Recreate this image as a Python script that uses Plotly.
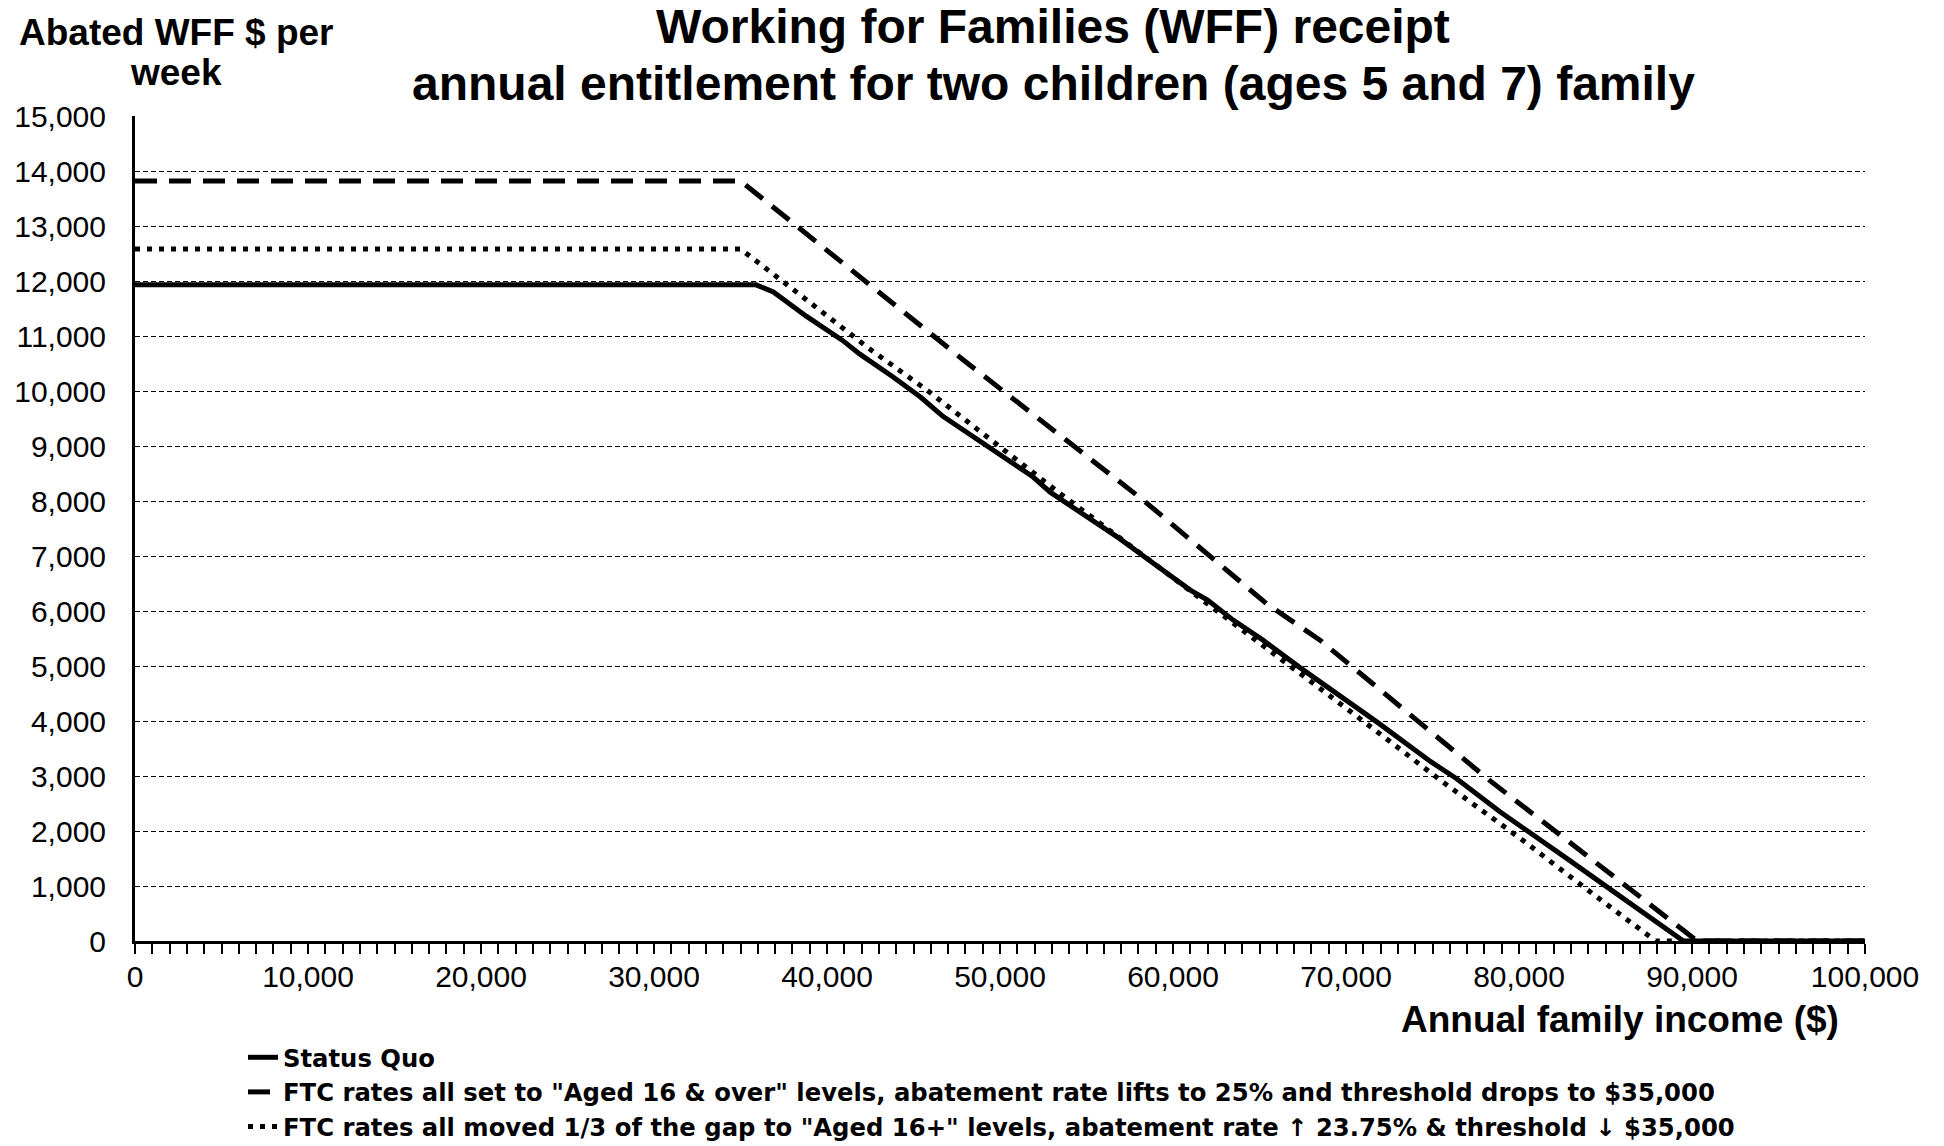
import plotly.graph_objects as go

# ---- data ----
income_sq = [0, 35900, 36900, 38800, 40900, 41900, 43800, 45400, 46700, 49200, 51900, 52900,
             55800, 56900, 58900, 61000, 62000, 63500, 65200, 67300, 70000, 71800, 74900,
             76400, 78900, 80800, 82900, 85100, 88000, 89500, 100000]
status_quo = [11930, 11930, 11800, 11360, 10920, 10670, 10260, 9890, 9540, 9010, 8440, 8160,
              7560, 7320, 6860, 6380, 6200, 5830, 5470, 4980, 4380, 3980, 3260,
              2950, 2350, 1920, 1470, 980, 320, 0, 0]

income_a16 = [0, 35000, 47900, 58300, 65400, 68500, 78300, 87200, 90300, 100000]
aged16_levels = [13820, 13820, 10560, 8010, 6135, 5470, 2920, 770, 0, 0]

income_third = [0, 35000, 37500, 42400, 45800, 53500, 57900, 67300, 71200, 75600, 80100,
                84500, 87900, 100000]
third_gap = [12580, 12580, 11980, 10780, 10010, 8130, 7100, 4890, 3950, 2890, 1860,
             800, 0, 0]

series_names = [
    "Status Quo",
    'FTC rates all set to "Aged 16 & over" levels, abatement rate lifts to 25% and threshold drops to $35,000',
    'FTC rates all moved 1/3 of the gap to "Aged 16+" levels, abatement rate \u2191 23.75% & threshold \u2193 $35,000',
]
title_lines = ["Working for Families (WFF) receipt",
               "annual entitlement for two children (ages 5 and 7) family"]
y_title_lines = ["Abated WFF $ per", "week"]
x_title = "Annual family income ($)"

FONT = "Liberation Sans, Arial, sans-serif"
LEG_FONT = "DejaVu Sans, Liberation Sans, sans-serif"

fig = go.Figure()
fig.add_trace(go.Scatter(x=income_sq, y=status_quo, mode="lines", name=series_names[0],
                         line=dict(color="black", width=5), cliponaxis=False))
fig.add_trace(go.Scatter(x=income_a16, y=aged16_levels, mode="lines", name=series_names[1],
                         line=dict(color="black", width=5, dash="22px,12px"), cliponaxis=False))
fig.add_trace(go.Scatter(x=income_third, y=third_gap, mode="lines", name=series_names[2],
                         line=dict(color="black", width=5, dash="5px,7px"), cliponaxis=False))

W, H = 1944, 1146
L, R, T, B = 135, 79, 116, 205
pw, ph = W - L - R, H - T - B

def px(xp):
    return (xp - L) / pw

def py(yp):
    return (H - B - yp) / ph

annotations = [
    dict(text=title_lines[0], x=px(1053), y=py(27), xref="paper", yref="paper",
         xanchor="center", yanchor="middle", showarrow=False,
         font=dict(family=FONT, size=48, color="black", weight="bold")),
    dict(text=title_lines[1], x=px(1053), y=py(84), xref="paper", yref="paper",
         xanchor="center", yanchor="middle", showarrow=False,
         font=dict(family=FONT, size=48, color="black", weight="bold")),
    dict(text=y_title_lines[0], x=px(176), y=py(32), xref="paper", yref="paper",
         xanchor="center", yanchor="middle", showarrow=False,
         font=dict(family=FONT, size=37, color="black", weight="bold")),
    dict(text=y_title_lines[1], x=px(176), y=py(72), xref="paper", yref="paper",
         xanchor="center", yanchor="middle", showarrow=False,
         font=dict(family=FONT, size=37, color="black", weight="bold")),
    dict(text=x_title, x=px(1841), y=py(1019), xref="paper", yref="paper",
         xanchor="right", yanchor="middle", showarrow=False,
         font=dict(family=FONT, size=37, color="black", weight="bold")),
]

fig.update_layout(
    width=W, height=H,
    margin=dict(l=L, r=R, t=T, b=B, pad=0, autoexpand=False),
    paper_bgcolor="white", plot_bgcolor="white",
    font=dict(family=FONT, color="black"),
    showlegend=True,
    legend=dict(
        xref="container", yref="container",
        x=243 / W, y=1 - 1035 / H, xanchor="left", yanchor="top",
        orientation="v", traceorder="normal",
        font=dict(family=LEG_FONT, size=24.3, color="black", weight="bold"),
        bgcolor="rgba(0,0,0,0)", borderwidth=0, itemwidth=30,
    ),
    annotations=annotations,
    xaxis=dict(
        range=[0, 100000], dtick=10000, tick0=0, tickformat=",",
        showgrid=False, zeroline=False, automargin=False,
        showline=True, linecolor="black", linewidth=3,
        ticks="outside", ticklen=10, tickwidth=1.5, tickcolor="black",
        minor=dict(dtick=1000, ticks="outside", ticklen=10, tickwidth=1.5, tickcolor="black", showgrid=False),
        tickfont=dict(family=FONT, size=30, color="black"),
        ticklabelstandoff=-3,
        fixedrange=True,
    ),
    yaxis=dict(
        range=[0, 15000], dtick=1000, tick0=0, tickformat=",",
        showgrid=True, gridcolor="black", gridwidth=1.3, griddash="5px,3px",
        zeroline=False, automargin=False,
        showline=True, linecolor="black", linewidth=3,
        ticks="",
        tickfont=dict(family=FONT, size=30, color="black"),
        ticklabelstandoff=20,
        fixedrange=True,
    ),
)

fig.write_html("out.html")
